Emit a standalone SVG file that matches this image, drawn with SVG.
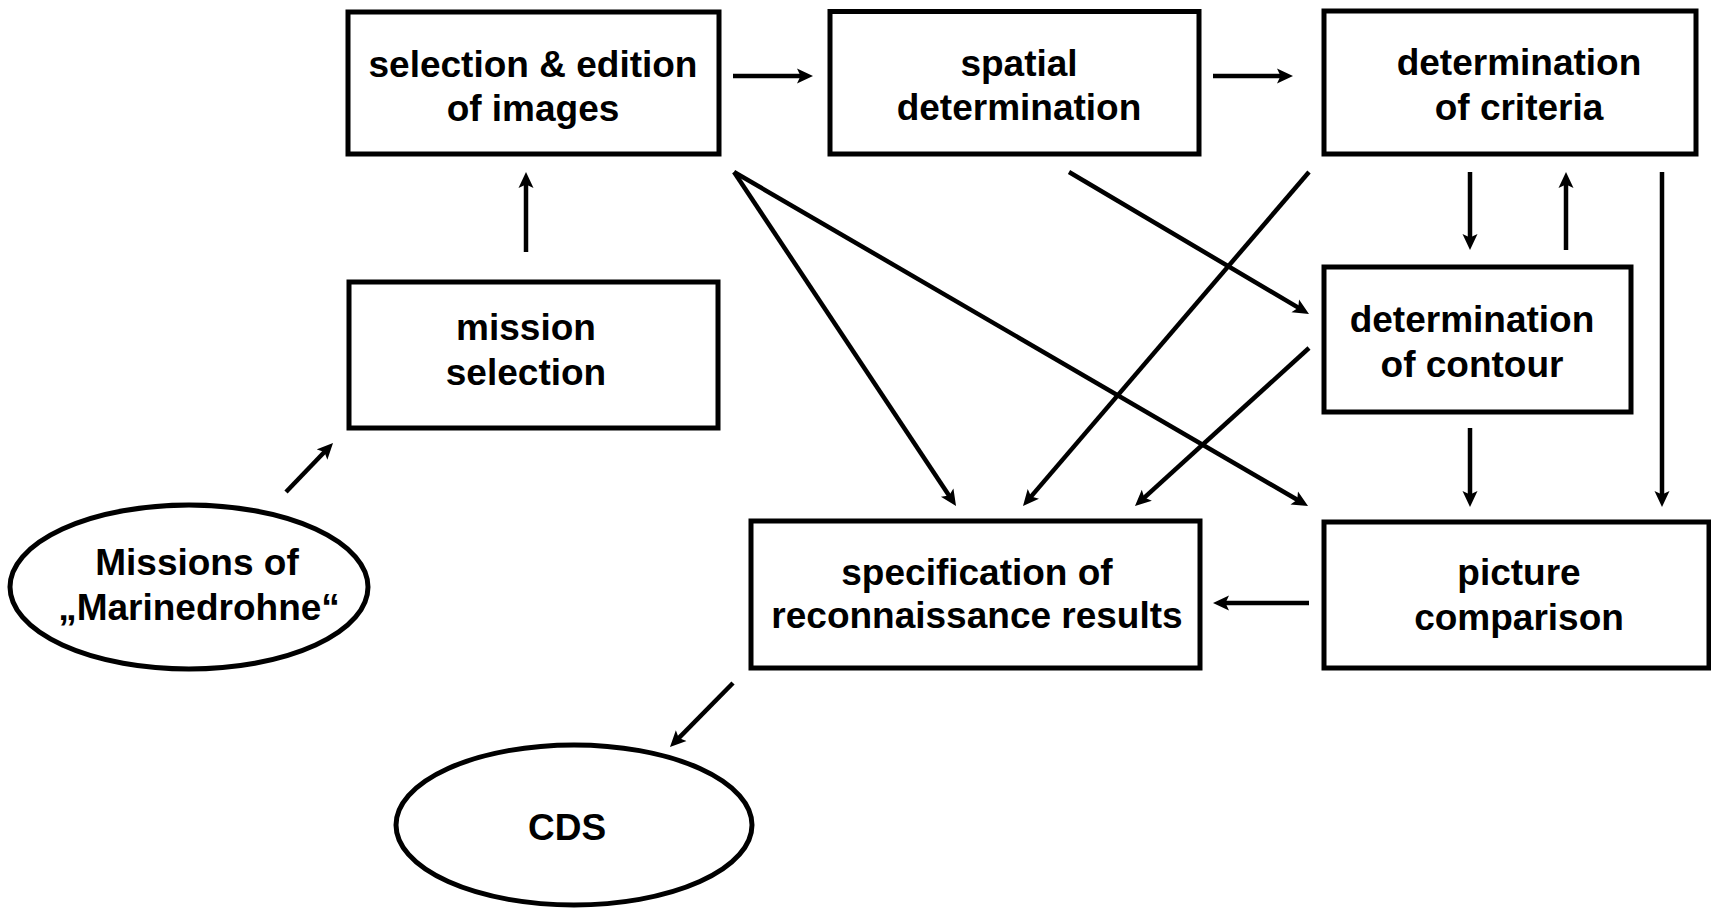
<svg xmlns="http://www.w3.org/2000/svg" width="1711" height="909" viewBox="0 0 1711 909">
<style>
.box{fill:#fff;stroke:#000;stroke-width:5}
.ell{fill:#fff;stroke:#000;stroke-width:5}
.t{font-family:"Liberation Sans",Arial,sans-serif;font-weight:bold;font-size:37px;fill:#000;text-anchor:middle}
.c{stroke:#000;stroke-width:4.5;fill:none;marker-end:url(#ah)}
</style>
<defs>
<marker id="ah" markerUnits="userSpaceOnUse" markerWidth="20" markerHeight="20" refX="6" refY="8" orient="auto">
<path d="M0,0.5 L16,8 L0,15.5 L3.5,8 Z" fill="#000"/>
</marker>
</defs>
<rect width="1711" height="909" fill="#fff"/>
<g id="connectors">
<line class="c" x1="733" y1="76" x2="803" y2="76"/>
<line class="c" x1="1213" y1="76" x2="1283" y2="76"/>
<line class="c" x1="526" y1="252" x2="526" y2="182"/>
<line class="c" x1="286" y1="492" x2="326.1" y2="450.2"/>
<line class="c" x1="734" y1="172" x2="950.5" y2="497.7"/>
<line class="c" x1="734" y1="172" x2="1299.4" y2="501"/>
<line class="c" x1="1069" y1="172" x2="1300.4" y2="308.9"/>
<line class="c" x1="1309" y1="172" x2="1029.5" y2="498.4"/>
<line class="c" x1="1309" y1="348" x2="1142.4" y2="499.3"/>
<line class="c" x1="1470" y1="172" x2="1470" y2="240"/>
<line class="c" x1="1566" y1="250" x2="1566" y2="182"/>
<line class="c" x1="1662" y1="172" x2="1662" y2="497"/>
<line class="c" x1="1470" y1="428" x2="1470" y2="497"/>
<line class="c" x1="1309" y1="603" x2="1223" y2="603"/>
<line class="c" x1="733" y1="683" x2="677" y2="739.9"/>
</g>
<g id="n-selection-edition">
<rect class="box" x="348" y="12" width="371" height="142"/>
<text class="t" x="533" y="77">selection &amp; edition</text>
<text class="t" x="533" y="121">of images</text>
</g>
<g id="n-spatial">
<rect class="box" x="830" y="11.5" width="369" height="142.5"/>
<text class="t" x="1019" y="76">spatial</text>
<text class="t" x="1019" y="120">determination</text>
</g>
<g id="n-criteria">
<rect class="box" x="1324" y="11" width="372" height="143"/>
<text class="t" x="1519" y="75">determination</text>
<text class="t" x="1519" y="120">of criteria</text>
</g>
<g id="n-mission-selection">
<rect class="box" x="349" y="282" width="369" height="146"/>
<text class="t" x="526" y="340">mission</text>
<text class="t" x="526" y="385">selection</text>
</g>
<g id="n-contour">
<rect class="box" x="1324" y="267" width="307" height="145"/>
<text class="t" x="1472" y="332">determination</text>
<text class="t" x="1472" y="377">of contour</text>
</g>
<g id="n-spec">
<rect class="box" x="751" y="521" width="449" height="147"/>
<text class="t" x="977" y="585">specification of</text>
<text class="t" x="977" y="628">reconnaissance results</text>
</g>
<g id="n-picture">
<rect class="box" x="1324" y="522" width="385" height="146"/>
<text class="t" x="1519" y="585">picture</text>
<text class="t" x="1519" y="630">comparison</text>
</g>
<g id="n-missions">
<ellipse class="ell" cx="189" cy="587" rx="179" ry="82"/>
<text class="t" x="197" y="575">Missions of</text>
<text class="t" x="199" y="620">„Marinedrohne“</text>
</g>
<g id="n-cds">
<ellipse class="ell" cx="574" cy="825" rx="178" ry="80"/>
<text class="t" x="567" y="840">CDS</text>
</g>
</svg>
